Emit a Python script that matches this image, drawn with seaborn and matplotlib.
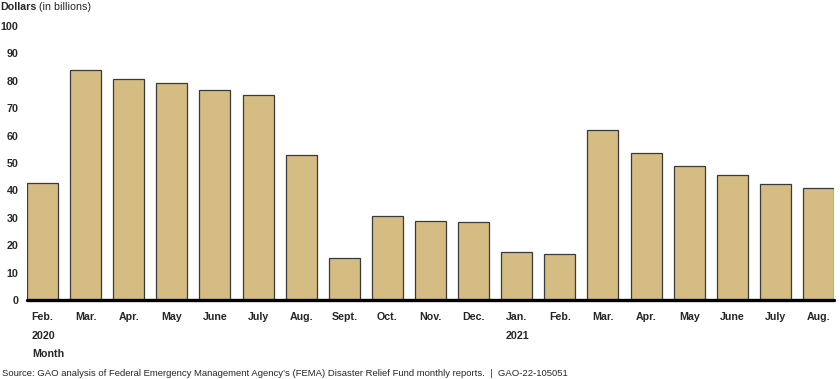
import pandas as pd
import matplotlib.pyplot as plt
import matplotlib.transforms as mtransforms
import seaborn as sns

# ----------------------------
# Data
# ----------------------------

month_keys = [
    "2020-02", "2020-03", "2020-04", "2020-05", "2020-06", "2020-07",
    "2020-08", "2020-09", "2020-10", "2020-11", "2020-12", "2021-01",
    "2021-02", "2021-03", "2021-04", "2021-05", "2021-06", "2021-07",
    "2021-08",
]
month_labels = [
    "Feb.", "Mar.", "Apr.", "May", "June", "July", "Aug.", "Sept.", "Oct.",
    "Nov.", "Dec.", "Jan.", "Feb.", "Mar.", "Apr.", "May", "June", "July",
    "Aug.",
]
balance = [
    42.7, 84.1, 80.5, 79.2, 76.7, 74.7, 52.9, 15.4, 30.7, 29.0,
    28.6, 17.7, 16.7, 62.2, 53.7, 49.0, 45.8, 42.5, 40.7,
]
year_labels = {"2020-02": "2020", "2021-01": "2021"}
y_ticks = [0, 10, 20, 30, 40, 50, 60, 70, 80, 90, 100]

df = pd.DataFrame({"month": month_keys, "balance": balance})

# ----------------------------
# Plot
# ----------------------------

sns.set_style("white")
plt.rcParams["font.family"] = ["Liberation Sans", "DejaVu Sans"]

fig = plt.figure(figsize=(8.4, 3.79), dpi=100)
ax = fig.add_axes([27 / 840, 79 / 379, 807 / 840, 274 / 379])

sns.barplot(
    data=df,
    x="month",
    y="balance",
    order=month_keys,
    color="#D5BC82",
    saturation=1,
    width=0.72,
    edgecolor="#3a3a3a",
    linewidth=0.9,
    ax=ax,
)

ax.set_xlim(-0.36, len(month_keys) - 0.64)
ax.set_ylim(0, 100)
ax.set_yticks(y_ticks)
ax.set_yticklabels([str(t) for t in y_ticks], fontsize=7.7, fontweight="bold")
ax.set_xticks(range(len(month_keys)))
ax.set_xticklabels(month_labels, fontsize=7.7, fontweight="bold")
ax.tick_params(axis="y", length=0, pad=6)
ax.tick_params(axis="x", length=0, pad=9)
ax.set_xlabel("")
ax.set_ylabel("")

for side in ["top", "right", "left", "bottom"]:
    ax.spines[side].set_visible(False)
ax.axhline(0, color="black", linewidth=2.4, clip_on=False, zorder=5)

# year labels and axis name below the month ticks
trans = mtransforms.blended_transform_factory(ax.transData, fig.transFigure)
for i, key in enumerate(month_keys):
    if key in year_labels:
        ax.text(i + 0.02, 1 - 336 / 379, year_labels[key], transform=trans,
                ha="center", va="center", fontsize=7.7, fontweight="bold")
ax.text(-0.23, 1 - 354 / 379, "Month", transform=trans,
        ha="left", va="center", fontsize=7.7, fontweight="bold")

# title
fig.text(0.5 / 840, 1 - 7 / 379, "Dollars", ha="left", va="center",
         fontsize=7.7, fontweight="bold")
fig.text(39 / 840, 1 - 7 / 379, "(in billions)", ha="left", va="center",
         fontsize=7.7)

# source line
fig.text(2 / 840, 1 - 373 / 379,
         "Source: GAO analysis of Federal Emergency Management Agency\u2019s "
         "(FEMA) Disaster Relief Fund monthly reports.  |  GAO-22-105051",
         ha="left", va="center", fontsize=6.8)

fig.savefig("out.png", dpi=100)
plt.close(fig)
